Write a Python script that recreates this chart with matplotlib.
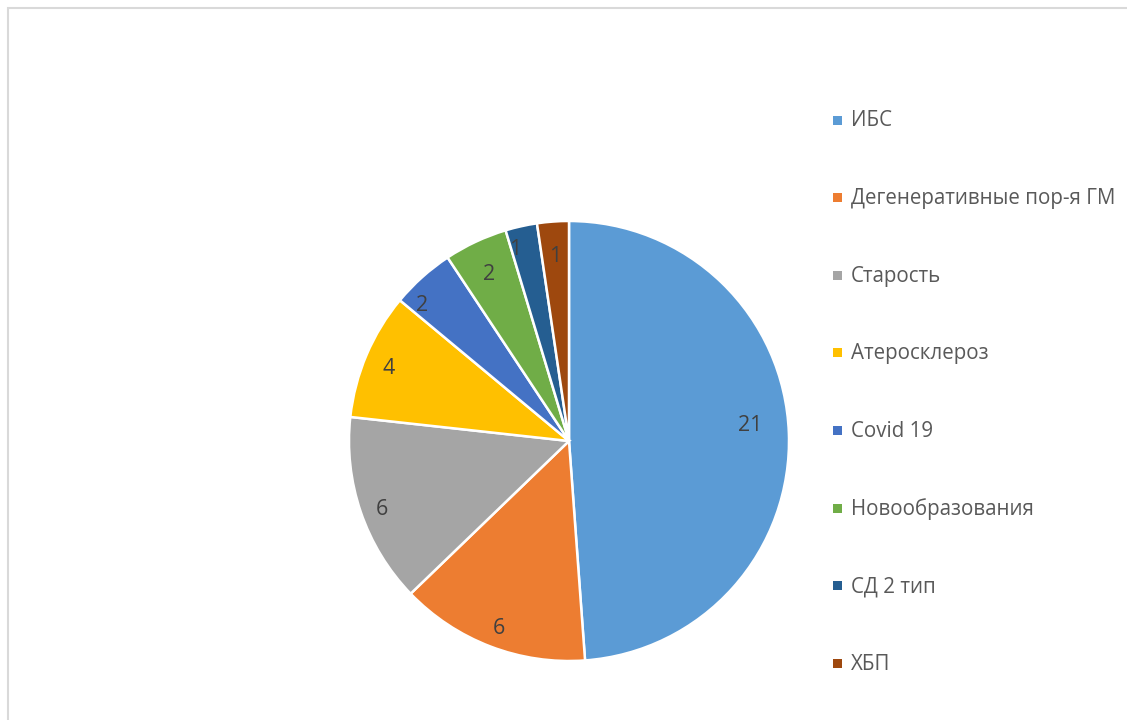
import numpy as np
import matplotlib
matplotlib.use("Agg")
import matplotlib.pyplot as plt
from matplotlib.patches import Rectangle

plt.rcParams["font.family"] = ["Open Sans", "DejaVu Sans"]

causes = ["ИБС", "Дегенеративные пор-я ГМ", "Старость", "Атеросклероз",
          "Covid 19", "Новообразования", "СД 2 тип", "ХБП"]
counts = [21, 6, 6, 4, 2, 2, 1, 1]
colors = ["#5B9BD5", "#ED7D31", "#A5A5A5", "#FFC000",
          "#4472C4", "#70AD47", "#255E91", "#9E480E"]

W, H = 1127, 720
fig = plt.figure(figsize=(W / 100, H / 100), dpi=100)

# light frame around the chart area
frame = Rectangle((8 / W, -0.01), 1.02, 1 - 8 / H + 0.01, transform=fig.transFigure,
                  fill=False, edgecolor="#d9d9d9", linewidth=1.5)
fig.patches.append(frame)

cx, cy, r = 569, 441, 220
ax = fig.add_axes([(cx - r) / W, (H - cy - r) / H, 2 * r / W, 2 * r / H])
wedges, _ = ax.pie(counts, colors=colors, startangle=90, counterclock=False,
                   radius=1.0, wedgeprops=dict(edgecolor="white", linewidth=1.8))
ax.set_xlim(-1, 1)
ax.set_ylim(-1, 1)
ax.set_aspect("equal")
ax.axis("off")

# value labels inside the wedges (radial distance, angular nudge in degrees)
frac = np.array(counts) / sum(counts)
mid = 90 - 360 * (np.cumsum(frac) - frac / 2)
dist = [0.83, 0.89, 0.90, 0.89, 0.92, 0.86, 0.925, 0.86]
nudge = [4.2, 0, 0, 0, 4.5, 0, 2.8, 0]
for m, val, d, n in zip(mid, counts, dist, nudge):
    ang = np.deg2rad(m + n)
    ax.text(d * np.cos(ang), d * np.sin(ang) - 0.02, str(val), ha="center",
            va="center", fontsize=15.5, color="#404040", zorder=5)

# legend on the right
top, step = 120, 77.6
for i, (lab, col) in enumerate(zip(causes, colors)):
    y = top + i * step
    fig.patches.append(Rectangle((833 / W, (H - y - 4.5) / H), 9 / W, 9 / H,
                                 transform=fig.transFigure, facecolor=col,
                                 edgecolor="none"))
    fig.text(851 / W, (H - y - 1) / H, lab, ha="left", va="center",
             fontsize=14.8, color="#595959")

fig.savefig("out.png", dpi=100)
